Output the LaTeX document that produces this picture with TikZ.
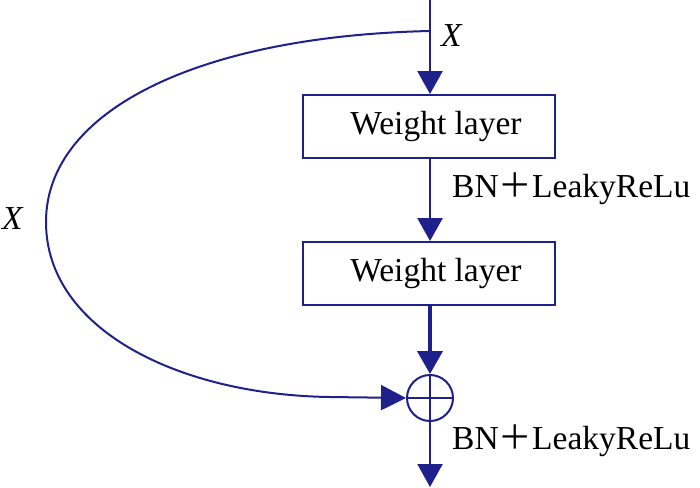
\documentclass[tikz,border=0pt]{standalone}
\usepackage{fontspec}
\setmainfont{Liberation Serif}
\newfontfamily\cjk{Noto Sans CJK SC}
\usetikzlibrary{arrows.meta}
\definecolor{lineblue}{RGB}{30,32,140}
\tikzset{
  conn/.style={draw=lineblue, line width=2.6pt, -{Triangle[length=23pt,width=25pt]}},
  wbox/.style={draw=lineblue, line width=2pt, minimum width=252pt, minimum height=63pt, inner sep=0pt, font=\fontsize{33.5}{36}\selectfont},
  lbl/.style={font=\fontsize{33.5}{36}\selectfont, inner sep=0pt},
}
\begin{document}
\begin{tikzpicture}[x=1pt,y=-1pt]
\useasboundingbox (0,0) rectangle (700,487);
\coordinate (top) at (430,0);
\coordinate (j) at (430,31);
\node[wbox] (b1) at (429,126.5) {\hspace*{14pt}Weight layer};
\node[wbox] (b2) at (429,273.5) {\hspace*{14pt}Weight layer};
\node[circle, draw=lineblue, line width=2pt, minimum size=46pt, inner sep=0pt] (sum) at (430,398) {};
\draw[lineblue, line width=2pt] (sum.north) -- (sum.south) (sum.west) -- (sum.east);
\coordinate (bot) at (430,487);
\draw[conn] (top) -- (b1.north -| top);
\draw[conn] (b1.south -| top) -- (b2.north -| top);
\draw[conn, line width=4pt] (b2.south -| top) -- (sum.north);
\draw[conn, line width=2.2pt] (sum.south) -- (bot);
\coordinate (far) at (46,222);
\coordinate (flat) at (330,397);
\draw[draw=lineblue, line width=2pt, -{Triangle[length=25pt,width=25pt]}]
  (j) .. controls (200,36) and (46,110) .. (far)
      .. controls (46,330) and (180,395) .. (flat) -- (sum.west);
\node[lbl, anchor=west] (xt) at (441,36) {\textit{X}};
\node[lbl, anchor=west] (xl) at (2,219) {\textit{X}};
\node[lbl, anchor=west] (bn1) at (452,189) {BN{\cjk ＋}LeakyReLu};
\node[lbl, anchor=west] (bn2) at (452,441) {BN{\cjk ＋}LeakyReLu};
\end{tikzpicture}
\end{document}
